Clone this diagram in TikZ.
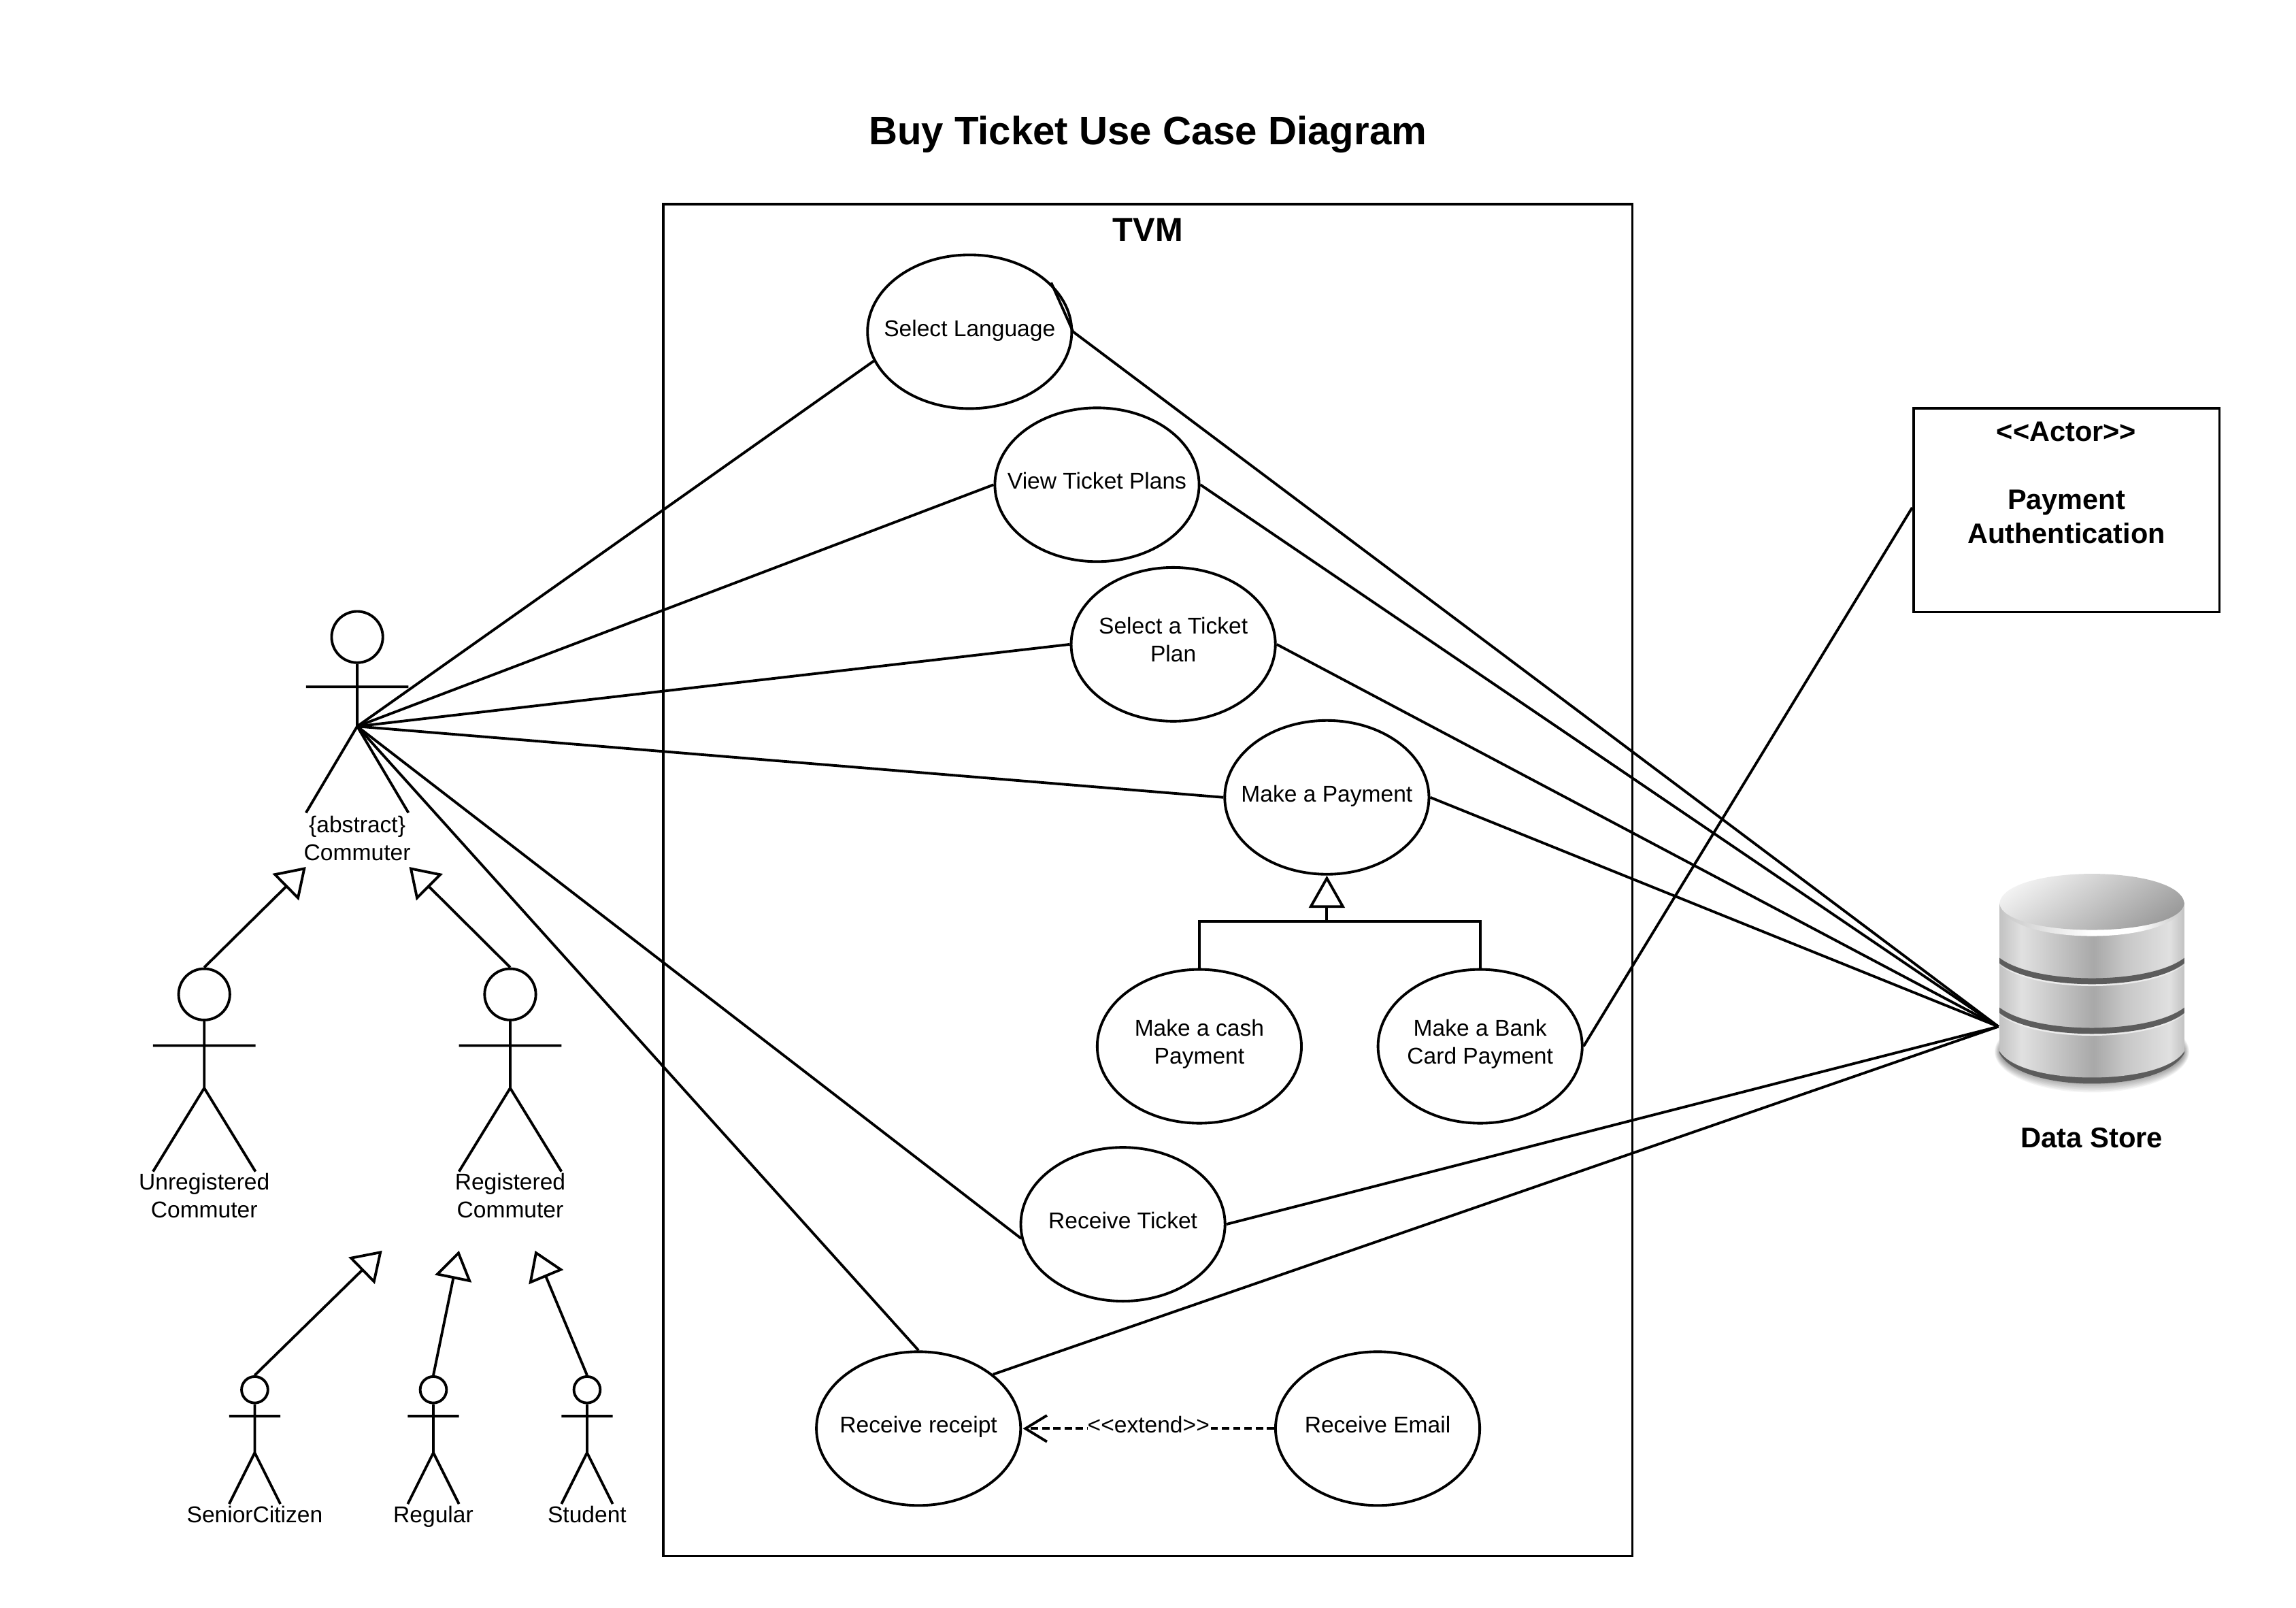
\documentclass[tikz,border=0pt]{standalone}
\usepackage{fontspec}
\setmainfont{Liberation Sans}
\usetikzlibrary{arrows.meta,shapes.geometric}
\definecolor{dbA}{gray}{0.76}
\definecolor{dbB}{gray}{0.88}
\definecolor{dbC}{gray}{0.78}
\definecolor{dbD}{gray}{0.66}
\definecolor{dbDark}{gray}{0.36}
\pgfdeclarehorizontalshading{dbside}{100bp}{color(0bp)=(dbA); color(25bp)=(dbA); color(31bp)=(dbB); color(40bp)=(dbC); color(50.5bp)=(dbD); color(59bp)=(dbC); color(71bp)=(dbB); color(75bp)=(dbA); color(100bp)=(dbA)}
\pgfdeclarehorizontalshading{dbrim}{100bp}{color(0bp)=(dbC); color(25bp)=(dbC); color(50bp)=(white); color(62bp)=(white); color(75bp)=(dbC); color(100bp)=(dbC)}
\newcommand{\lowstrut}{\rule[-3.9pt]{0pt}{1pt}}
\tikzset{
  line/.style={draw=black,line width=1.1pt},
  uc/.style={ellipse,line,minimum width=139.5*0.02152cm,minimum height=105*0.02152cm,inner xsep=-16pt,inner ysep=-8pt,align=center,font=\fontsize{9.55}{11.6}\selectfont},
  ucone/.style={uc,text height=8pt,text depth=4.2pt},
  lbl/.style={align=center,font=\fontsize{9.55}{11.6}\selectfont,inner sep=0pt},
  fixlbl/.style={lbl,text height=8pt,text depth=2pt},
  boldlbl/.style={align=center,font=\fontsize{11.8}{14}\selectfont\bfseries,inner sep=0pt},
  head/.style={circle,line,inner sep=0pt,minimum size=35*0.02152cm},
  smallhead/.style={circle,line,inner sep=0pt,minimum size=18*0.02152cm},
  assoc/.style={line},
  gen/.style={line,-{Triangle[open,length=12pt,width=15.5pt]}},
  ext/.style={line,dash pattern=on 3.1pt off 1.6pt,shorten >=0.4pt,-{Straight Barb[length=9pt,width=11pt,line width=1.1pt]}},
}
\begin{document}
\begin{tikzpicture}[x=0.02152cm,y=-0.02152cm]
\useasboundingbox (0,0) rectangle (1568.3,1098);

\node[font=\fontsize{16.55}{18}\selectfont\bfseries,inner sep=0pt] (title) at (784,92) {Buy Ticket Use Case Diagram};

% system boundary
\node[line,minimum width=662*0.02152cm,minimum height=923*0.02152cm,inner sep=0pt] (tvm) at (784,601) {};
\node[font=\fontsize{13.9}{16}\selectfont\bfseries,inner sep=0pt] (tvmlabel) at (784,157) {TVM};

% use cases
\node[ucone] (sl) at (662.3,226.5) {Select Language};
\node[ucone] (vp) at (749.3,331) {View Ticket Plans};
\node[uc] (sp) at (801.4,440) {Select a Ticket\\Plan\lowstrut};
\node[ucone] (mp) at (906.3,544.5) {Make a Payment};
\node[uc] (cash) at (819.2,714.5) {Make a cash\\Payment\lowstrut};
\node[uc] (bank) at (1011,714.5) {Make a Bank\\Card Payment\lowstrut};
\node[ucone] (rt) at (767,836) {Receive Ticket};
\node[ucone] (rr) at (627.4,975.5) {Receive receipt};
\node[ucone] (re) at (941,975.5) {Receive Email};

% actors
\node[head] (ch) at (244,435) {};
\coordinate (chip) at (244,496);
\coordinate (cal) at (209,469); \coordinate (car) at (279,469);
\coordinate (cll) at (209,555); \coordinate (clr) at (279,555);
\draw[line] (ch.south) -- (chip) (cal) -- (car) (cll) -- (chip) -- (clr);
\node[lbl] (clabel) at (244,572.5) {\{abstract\}\\Commuter};

\node[head] (uh) at (139.5,679) {};
\coordinate (uhip) at (139.5,743);
\coordinate (ual) at (104.5,714); \coordinate (uar) at (174.5,714);
\coordinate (ull) at (104.5,800); \coordinate (ulr) at (174.5,800);
\draw[line] (uh.south) -- (uhip) (ual) -- (uar) (ull) -- (uhip) -- (ulr);
\node[lbl] (ulabel) at (139.5,816.5) {Unregistered\\Commuter};

\node[head] (gh) at (348.5,679) {};
\coordinate (ghip) at (348.5,743);
\coordinate (gal) at (313.5,714); \coordinate (gar) at (383.5,714);
\coordinate (gll) at (313.5,800); \coordinate (glr) at (383.5,800);
\draw[line] (gh.south) -- (ghip) (gal) -- (gar) (gll) -- (ghip) -- (glr);
\node[lbl] (glabel) at (348.5,816.5) {Registered\\Commuter};

\foreach \n/\x/\t in {sc/174/SeniorCitizen,rg/296/Regular,st/401/Student}{
  \node[smallhead] (\n h) at (\x,949) {};
  \coordinate (\n hip) at (\x,992);
  \draw[line] (\n h.south) -- (\n hip)
    (\x-17.5,967) -- (\x+17.5,967)
    (\x-17.5,1027) -- (\n hip) -- (\x+17.5,1027);
  \node[fixlbl] (\n label) at (\x,1034.7) {\t};
}

% generalisations between actors
\coordinate (t1) at (209,592); \coordinate (t2) at (279.5,592);
\coordinate (t3) at (261,854); \coordinate (t4) at (313.5,854); \coordinate (t5) at (365.5,854);
\draw[gen] (uh.north) -- (t1);
\draw[gen] (gh.north) -- (t2);
\draw[gen] (sch.north) -- (t3);
\draw[gen] (rgh.north) -- (t4);
\draw[gen] (sth.north) -- (t5);

% actor associations
\draw[assoc] (chip) -- (sl.197);
\draw[assoc] (chip) -- (vp.west);
\draw[assoc] (chip) -- (sp.west);
\draw[assoc] (chip) -- (mp.west);
\draw[assoc] (chip) -- (rt.188);
\draw[assoc] (chip) -- (rr.north);

% data store
\coordinate (dbport) at (1365,701);
\draw[assoc] (sl.east) -- (dbport);
\draw[assoc] (vp.east) -- (dbport);
\draw[assoc] (sp.east) -- (dbport);
\draw[assoc] (mp.east) -- (dbport);
\draw[assoc] (rt.east) -- (dbport);
\draw[assoc] (rr.36) -- (dbport);
\coordinate (slstub) at (718,193);
\draw[assoc] (slstub) -- (sl.east);

% payment generalisation
\coordinate (pj) at (906.3,629);
\draw[line] (cash.north) |- (pj);
\draw[line] (bank.north) |- (pj);
\draw[line,-{Triangle[open,length=13.5pt,width=15pt]}] (pj) -- (mp.south);

% actor box
\node[line,minimum width=209*0.02152cm,minimum height=139*0.02152cm,inner sep=0pt] (auth) at (1411.5,348.5) {};
\node[boldlbl] (authlabel) at (1411.5,329.5) {{<}{<}Actor{>}{>}\\[14.6pt]Payment\\Authentication};
\draw[assoc] (bank.east) -- (auth.179);

% extend
\draw[ext] (re.west) -- (rr.east);
\node[lbl,fill=white,inner xsep=0pt,inner ysep=1pt] (extlabel) at (784.5,973) {{<}{<}extend{>}{>}};

% database cylinder
\begin{scope}[x=0.01cm,y=-0.01cm,xshift=0.02cm]
  \foreach \k in {0,...,11}{
    \fill[black,opacity=0.04] (3074,1546) ellipse [x radius={143-\k*0.7},y radius={60-\k*1.6}];
  }
  \fill[dbDark] (2938,1548) .. controls (2970,1608) and (3178,1608) .. (3210,1548) -- (3210,1530) -- (2938,1530) -- cycle;
  \shade[shading=dbside] (2938,1328) -- (2938,1545) .. controls (2970,1597) and (3178,1597) .. (3210,1545) -- (3210,1328) -- cycle;
  \foreach \yy in {1408,1481}{
    \fill[white!85!gray] (2938,\yy+10) .. controls (2990,\yy+52) and (3158,\yy+52) .. (3210,\yy+10) .. controls (3158,\yy+46) and (2990,\yy+46) .. cycle;
    \fill[dbDark] (2938,\yy) .. controls (2990,\yy+40) and (3158,\yy+40) .. (3210,\yy) -- (3210,\yy+8) .. controls (3158,\yy+49) and (2990,\yy+49) .. (2938,\yy+8) -- cycle;
  }
  \shade[shading=dbrim] (2938,1328) .. controls (2945,1392) and (3203,1392) .. (3210,1328) -- cycle;
  \shade[top color=gray!8,bottom color=gray!80,shading angle=35]
     (2938,1328) .. controls (2945,1270) and (3203,1270) .. (3210,1328) .. controls (3203,1380) and (2945,1380) .. cycle;
\end{scope}
\node[font=\fontsize{11.9}{14}\selectfont\bfseries,inner sep=0pt] (dblabel) at (1428.7,777) {Data Store};
\end{tikzpicture}
\end{document}
